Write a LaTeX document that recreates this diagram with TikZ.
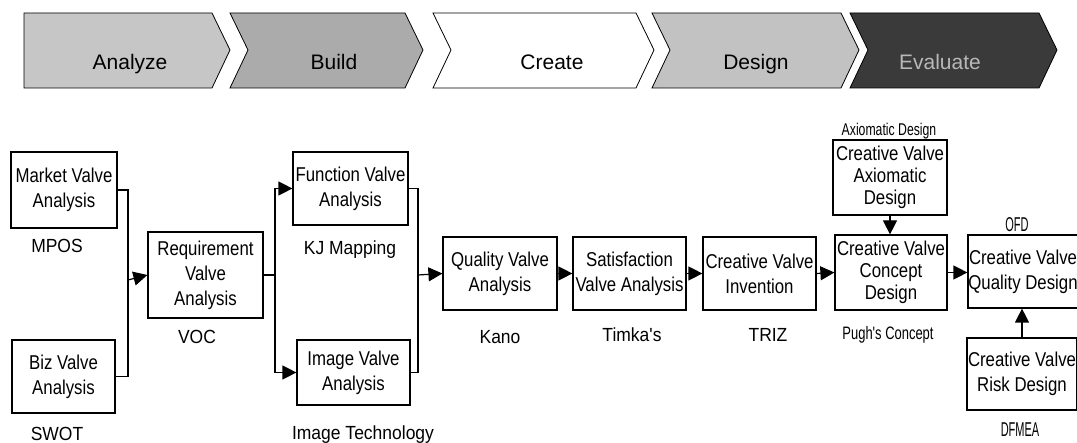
\documentclass[tikz,border=0pt]{standalone}
\usepackage{fontspec}
\setmainfont{Liberation Sans}
\newfontfamily\nbox[FakeStretch=0.84]{Liberation Sans}
\newfontfamily\nlab[FakeStretch=0.92]{Liberation Sans}
\newfontfamily\nfa[FakeStretch=0.72]{Liberation Sans}
\newfontfamily\nfc[FakeStretch=0.55]{Liberation Sans}
\usetikzlibrary{arrows.meta}
\definecolor{gA}{HTML}{C6C6C6}
\definecolor{gB}{HTML}{ABABAB}
\definecolor{gD}{HTML}{C2C2C2}
\definecolor{gE}{HTML}{3A3A3A}
\definecolor{tE}{HTML}{B8B8B8}
\begin{document}
\begin{tikzpicture}[x=1pt,y=-1pt,
  box/.style={draw,line width=1.2pt,align=center,inner sep=0pt,font=\nbox\fontsize{20}{25}\selectfont},
  box3/.style={box,font=\nbox\fontsize{20}{22}\selectfont},
  lbl/.style={inner sep=0pt,text height=13pt,text depth=0pt,font=\nlab\fontsize{19}{21}\selectfont},
  nlbl/.style={inner sep=0pt,text height=14pt,text depth=0pt,font=\nfc\fontsize{20}{22}\selectfont},
  wire/.style={line width=1.2pt},
  arr/.style={wire,-{Triangle[length=14pt,width=14pt]}},
  ctext/.style={inner sep=0pt,anchor=base,font=\fontsize{21}{24}\selectfont}]
\useasboundingbox (0,0) rectangle (1077,443);
% chevrons
\fill[gA,draw=black,line width=0.8pt] (24,13) -- (212,13) -- (230,50) -- (212,88) -- (24,88) -- cycle;
\fill[gB,draw=black,line width=0.8pt] (230,13) -- (405,13) -- (423,50) -- (405,88) -- (230,88) -- (248,50) -- cycle;
\fill[white,draw=black,line width=0.8pt] (433,13) -- (636,13) -- (654,50) -- (636,88) -- (433,88) -- (451,50) -- cycle;
\fill[gD,draw=black,line width=0.8pt] (652,13) -- (841,13) -- (859,50) -- (841,88) -- (652,88) -- (670,50) -- cycle;
\fill[gE,draw=black,line width=0.8pt] (850,13) -- (1039,13) -- (1057,50) -- (1039,88) -- (850,88) -- (868,50) -- cycle;
\node[ctext] (tA) at (130,70) {Analyze};
\node[ctext] (tB) at (334,70) {Build};
\node[ctext] (tC) at (552,70) {Create};
\node[ctext] (tD) at (756,70) {Design};
\node[ctext,text=tE] (tEv) at (940,70) {Evaluate};
% boxes
\node[box,minimum width=106pt,minimum height=76pt] (market) at (64,190) {Market Valve\\Analysis};
\node[box,minimum width=103pt,minimum height=73pt] (biz) at (63.5,376.5) {Biz Valve\\Analysis};
\node[box,minimum width=115pt,minimum height=86pt] (req) at (205.5,275) {Requirement\\Valve\\Analysis};
\node[box,minimum width=115pt,minimum height=73pt] (func) at (350.5,188.5) {Function Valve\\Analysis};
\node[box,minimum width=113pt,minimum height=65pt] (img) at (353.5,372.5) {Image Valve\\Analysis};
\node[box,minimum width=114pt,minimum height=73pt] (qual) at (500,273.5) {Quality Valve\\Analysis};
\node[box,minimum width=113pt,minimum height=73pt] (sat) at (629.5,273.5) {Satisfaction\\Valve Analysis};
\node[box,minimum width=113pt,minimum height=73pt] (inv) at (759.5,273.5) {Creative Valve\\Invention};
\node[box3,minimum width=112pt,minimum height=75pt] (conc) at (891,272.5) {Creative Valve\\Concept\\Design};
\node[box3,minimum width=114pt,minimum height=75pt] (axio) at (890,177.5) {Creative Valve\\Axiomatic\\Design};
\node[box,minimum width=110pt,minimum height=73pt] (qdes) at (1023,271.5) {Creative Valve\\Quality Design};
\node[box,minimum width=110pt,minimum height=72pt] (risk) at (1022,374) {Creative Valve\\Risk Design};
% labels
\node[lbl] (lmpos) at (57,246) {MPOS};
\node[lbl] (lswot) at (57,434) {SWOT};
\node[lbl] (lvoc) at (197,337) {VOC};
\node[lbl] (lkj) at (350,248) {KJ Mapping};
\node[lbl] (limg) at (363,433) {Image Technology};
\node[lbl] (lkano) at (500,337) {Kano};
\node[lbl] (ltim) at (632,335) {Timka's};
\node[lbl] (ltriz) at (768,335) {TRIZ};
\node[inner sep=0pt,text height=11pt,text depth=0pt,font=\nfa\fontsize{17}{19}\selectfont] (laxd) at (889,130) {Axiomatic Design};
\node[inner sep=0pt,text height=12pt,text depth=0pt,font=\nfa\fontsize{18}{20}\selectfont] (lpugh) at (888,334) {Pugh's Concept};
\node[nlbl] (lofd) at (1017,225) {OFD};
\node[nlbl] (ldfm) at (1020,430) {DFMEA};
% connectors
\coordinate (j1) at (128,280);
\draw[wire] (market.east) -| (j1) |- (biz.east);
\draw[arr] (j1) -- (req.west);
\coordinate (j2) at (275,275);
\draw[wire] (req.east) -- (j2);
\draw[arr] (j2) |- (func.west);
\draw[arr] (j2) |- (img.west);
\coordinate (j3) at (418,275);
\draw[wire] (func.east) -| (j3) |- (img.east);
\draw[arr] (j3) -- (qual.west);
\draw[arr] (qual.east) -- (sat.west);
\draw[arr] (sat.east) -- (inv.west);
\draw[arr] (inv.east) -- (conc.west);
\draw[arr] (conc.east) -- (conc.east -| qdes.west);
\draw[arr] (axio.south) -- (axio.south |- conc.north);
\draw[arr] (risk.north) -- (risk.north |- qdes.south);
\end{tikzpicture}
\end{document}
